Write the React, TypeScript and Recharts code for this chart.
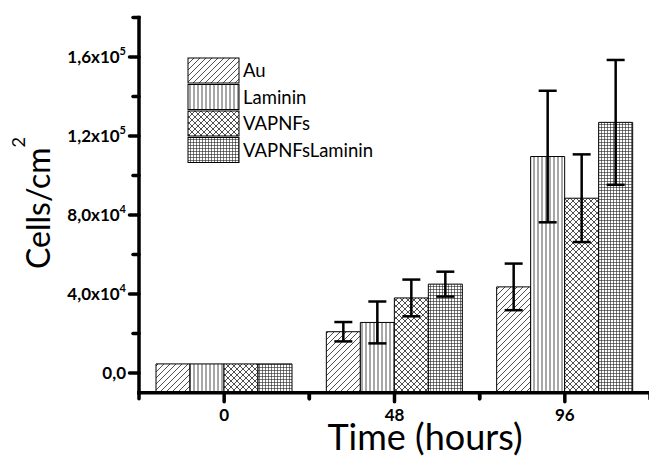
import React from 'react';
import { BarChart, Bar, XAxis, YAxis, ErrorBar } from 'recharts';

// ---- data ----
const categories = ['0', '48', '96'];
const seriesNames = ['Au', 'Laminin', 'VAPNFs', 'VAPNFsLaminin'];
const au = [4600, 20900, 43600];
const auErr = [0, 4900, 11800];
const laminin = [4600, 25600, 109600];
const lamininErr = [0, 10600, 33300];
const vapnfs = [4600, 38000, 88500];
const vapnfsErr = [0, 9300, 22200];
const vapnfsLam = [4600, 45000, 126900];
const vapnfsLamErr = [0, 6300, 31600];
const yTicks = [0, 20000, 40000, 60000, 80000, 100000, 120000, 140000, 160000, 180000];
const Y_MIN = -10000;
const Y_MAX = 180000;

const data = categories.map((c, i) => ({
  time: c,
  au: au[i], auErr: auErr[i],
  laminin: laminin[i], lamininErr: lamininErr[i],
  vapnfs: vapnfs[i], vapnfsErr: vapnfsErr[i],
  vapnfsLam: vapnfsLam[i], vapnfsLamErr: vapnfsLamErr[i],
}));

const seriesKeys = ['au', 'laminin', 'vapnfs', 'vapnfsLam'];
const patternIds = ['p-au', 'p-lam', 'p-vap', 'p-vaplam'];

// ---- layout ----
const W = 652;
const H = 457;
const M = { top: 17.5, right: 2, left: 99, bottom: 34.25 };
const Y_AXIS_W = 40;
const X_AXIS_H = 30;
const PLOT_W = W - M.left - Y_AXIS_W - M.right;
const BAND = PLOT_W / categories.length;
const FONT = 'Lato, "Open Sans", sans-serif';

const Patterns = ({ prefix }: { prefix: string }) => (
  <defs>
    <pattern id={prefix + 'p-au'} width="6" height="6" patternUnits="userSpaceOnUse">
      <rect width="6" height="6" fill="#fff" />
      <path d="M0,6 L6,0 M-1.5,1.5 L1.5,-1.5 M4.5,7.5 L7.5,4.5" stroke="#222" strokeWidth="0.8" />
    </pattern>
    <pattern id={prefix + 'p-lam'} width="4" height="4" patternUnits="userSpaceOnUse">
      <rect width="4" height="4" fill="#fff" />
      <path d="M2,0 V4" stroke="#222" strokeWidth="0.8" />
    </pattern>
    <pattern id={prefix + 'p-vap'} width="6" height="6" patternUnits="userSpaceOnUse">
      <rect width="6" height="6" fill="#fff" />
      <path d="M0,6 L6,0 M0,0 L6,6 M-1.5,1.5 L1.5,-1.5 M4.5,7.5 L7.5,4.5 M-1.5,4.5 L1.5,7.5 M4.5,-1.5 L7.5,1.5" stroke="#222" strokeWidth="0.8" />
    </pattern>
    <pattern id={prefix + 'p-vaplam'} width="3" height="3" patternUnits="userSpaceOnUse">
      <rect width="3" height="3" fill="#fff" />
      <path d="M0,1.5 H3 M1.5,0 V3" stroke="#222" strokeWidth="0.6" />
    </pattern>
  </defs>
);

const fmtY = (v: number) => {
  if (v === 0) return { main: '0,0', sup: '' };
  const e = Math.floor(Math.log10(v));
  const m = (v / Math.pow(10, e)).toFixed(1).replace('.', ',');
  return { main: m + 'x10', sup: String(e) };
};

const YTick = (props: any) => {
  const { x, y, payload } = props;
  const v = payload.value;
  const major = v % 40000 === 0;
  const f = fmtY(v);
  return (
    <g>
      <line x1={x - (major ? 9.5 : 6)} x2={x} y1={y} y2={y} stroke="#000" strokeWidth={3.5} strokeLinecap="round" />
      {major && (
        <text x={x - 13} y={y + 6} textAnchor="end" fontFamily={FONT} fontWeight={700} fontSize={17} fill="#000">
          {f.main}
          {f.sup && <tspan dy={-8} fontSize={11}>{f.sup}</tspan>}
        </text>
      )}
    </g>
  );
};

const XTick = (props: any) => {
  const { x, y, payload } = props;
  return (
    <g>
      <line x1={x} x2={x} y1={y} y2={y + 9} stroke="#000" strokeWidth={3.5} strokeLinecap="round" />
      <line x1={x - BAND / 2} x2={x - BAND / 2} y1={y} y2={y + 6} stroke="#000" strokeWidth={3.5} strokeLinecap="round" />
      <line x1={x + BAND / 2} x2={x + BAND / 2} y1={y} y2={y + 6} stroke="#000" strokeWidth={3.5} strokeLinecap="round" />
      <text x={x} y={y + 28} textAnchor="middle" fontFamily={FONT} fontWeight={700} fontSize={17} fill="#000">
        {payload.value}
      </text>
    </g>
  );
};

const Overlay = () => (
  <svg width={W} height={H} style={{ position: 'absolute', left: 0, top: 0, pointerEvents: 'none' }}>
    <Patterns prefix="lg-" />
    {seriesNames.map((n, i) => {
      const top = 58 + i * 26.5;
      return (
        <g key={n}>
          <rect x={188} y={top} width={51} height={25} fill={`url(#lg-${patternIds[i]})`} stroke="#000" strokeWidth={1} />
          <text x={243} y={top + 19} fontFamily={FONT} fontSize={18.5} fill="#000">{n}</text>
        </g>
      );
    })}
    <text x={50} y={203} transform="rotate(-90, 50, 203)" textAnchor="middle" fontFamily={FONT} fontSize={32} fill="#000">
      Cells/cm<tspan dy={-25} fontSize={18}>2</tspan>
    </text>
    <text x={425} y={450} textAnchor="middle" fontFamily={FONT} fontSize={36} fill="#000">
      Time (hours)
    </text>
  </svg>
);

export default function App() {
  return (
    <div style={{ position: 'fixed', left: 0, top: 0, width: 649, height: 457, overflow: 'hidden', background: '#fff' }}>
      <BarChart width={W} height={H} data={data} margin={M} barGap={0} barSize={34}>
        <Patterns prefix="" />
        <XAxis
          dataKey="time"
          height={X_AXIS_H}
          axisLine={{ stroke: '#000', strokeWidth: 3.5, strokeLinecap: 'square' }}
          tickLine={false}
          tickSize={0}
          tickMargin={0}
          tick={<XTick />}
          interval={0}
        />
        <YAxis
          width={Y_AXIS_W}
          type="number"
          domain={[Y_MIN, Y_MAX]}
          allowDataOverflow
          ticks={yTicks}
          interval={0}
          axisLine={{ stroke: '#000', strokeWidth: 3.5, strokeLinecap: 'square' }}
          tickLine={false}
          tickSize={0}
          tickMargin={0}
          tick={<YTick />}
        />
        {seriesKeys.map((k, i) => (
          <Bar
            key={k}
            dataKey={(d: any) => [Y_MIN, d[k]]}
            fill={`url(#${patternIds[i]})`}
            stroke="#000"
            strokeWidth={1}
            isAnimationActive={false}
          >
            <ErrorBar dataKey={k + 'Err'} width={9} stroke="#000" strokeWidth={2.5} />
          </Bar>
        ))}
      </BarChart>
      <Overlay />
    </div>
  );
}
